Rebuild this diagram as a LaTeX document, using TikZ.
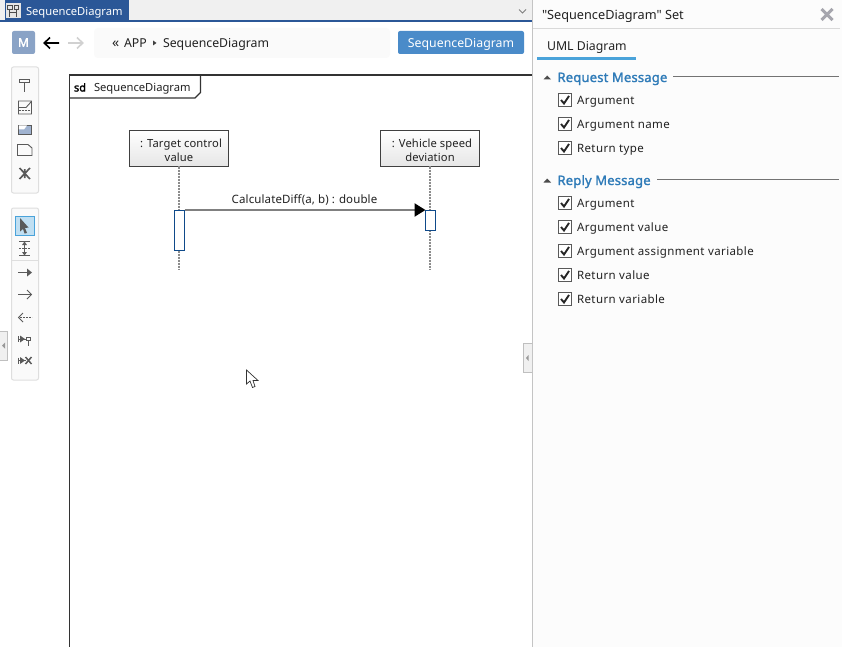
\documentclass[tikz,border=0pt]{standalone}
\usepackage{fontspec}
\setmainfont{Noto Sans}
\newfontfamily\plainf{Noto Sans}
\newfontfamily\itemf{Noto Sans}[LetterSpace=3.5]
\newfontfamily\msgf{Noto Sans}[LetterSpace=1]
\newfontfamily\headf{Noto Sans}[FakeBold=1.6,LetterSpace=1.5]
\newfontfamily\kwf{Noto Sans}[FakeBold=2]
\usetikzlibrary{arrows.meta}
\definecolor{tabblue}{HTML}{2B5797}
\definecolor{barbg}{HTML}{F0F0F0}
\definecolor{btnblue}{HTML}{4A8BC9}
\definecolor{headblue}{HTML}{2F7BB8}
\definecolor{tabline}{HTML}{4AA3DA}
\definecolor{panelln}{HTML}{C4C4C4}
\definecolor{toolgr}{HTML}{5A5A5A}
\definecolor{actblue}{HTML}{0F4A8A}
\definecolor{inkc}{HTML}{222222}
\definecolor{closegr}{HTML}{A6A6AE}
\tikzset{
  x=1pt,y=-1pt,
  lbl/.style={anchor=base west,inner sep=0pt,outer sep=0pt,font=\fontsize{11.2}{14}\selectfont,text=inkc},
  biglbl/.style={lbl,font=\fontsize{12.3}{14}\selectfont},
  itemlbl/.style={lbl,font=\fontsize{11.5}{14}\selectfont\itemf},
  lifebox/.style={draw=black!75,line width=1.2pt,inner sep=0pt,outer sep=0pt,minimum width=99pt,minimum height=36pt,align=center,
     top color=white,bottom color=black!10,font=\fontsize{11.2}{14}\selectfont\msgf,text=inkc},
  actbox/.style={draw=actblue,line width=0.9pt,fill=white,inner sep=0pt,outer sep=0pt,minimum width=10pt},
  lifeline/.style={draw=black!45,line width=2pt,dash pattern=on 2pt off 1pt},
  toolbox/.style={draw=black!13,line width=1pt,fill=black!2,rounded corners=2pt},
  tool/.style={draw=toolgr,line width=0.9pt},
  chkbox/.style={draw=black!65,line width=0.9pt,fill=white},
  chkmark/.style={draw=black!85,line width=1.9pt},
  grphead/.style={lbl,font=\fontsize{13}{14}\selectfont\headf,text=headblue},
  grpline/.style={draw=black!55,line width=0.8pt},
  collapser/.style={draw=black!25,line width=0.8pt,fill=barbg},
}
\newcommand{\chkitem}[3]{%
  \draw[chkbox] (558.5,#2-6.5) rectangle (571.5,#2+6.5);
  \draw[chkmark] (561,#2) -- (564,#2+3.5) -- (569,#2-4);
  \node[itemlbl] (#1) at (577,#2+4.5) {#3};
}
\begin{document}
\begin{tikzpicture}
\useasboundingbox (0,0) rectangle (842,647);
\fill[white] (0,0) rectangle (842,647);
% top bar
\fill[barbg] (0,0) rectangle (532,20);
\fill[tabblue] (5,0) rectangle (129,20);
\fill[tabblue] (0,20) rectangle (532,22.5);
\fill[white!90!black] (5.5,3.5) rectangle (20.5,18.5);
\draw[black!70,line width=0.9pt] (7.5,5) rectangle (12,9) (14,5) rectangle (18.5,9) (9.7,9) -- (9.7,17) (16.2,9) -- (16.2,17) (9.7,12.5) -- (16.2,12.5);
\node[lbl,text=white] (tabtext) at (26,16) {SequenceDiagram};
\draw[black!50,line width=0.8pt] (519,9.5) -- (522.5,13) -- (526,9.5);
% nav
\node[fill=tabblue!55!white,rounded corners=2pt,minimum width=23pt,minimum height=23pt,inner sep=0pt,text=white,font=\fontsize{12}{14}\selectfont\kwf] (mbtn) at (23.5,42.5) {M};
\draw[black,line width=1.6pt] (59,43) -- (44,43) (50,37.5) -- (44.3,43) -- (50,48.5);
\draw[black!18,line width=1.6pt] (68,43) -- (83,43) (77,37.5) -- (82.7,43) -- (77,48.5);
\fill[black!2,rounded corners=4pt] (94,28) rectangle (390,58);
\node[biglbl,font=\fontsize{14}{14}\selectfont] (bcback) at (112,47.5) {«};
\node[biglbl] (bcapp) at (124,47.5) {APP};
\fill[black!75] (153,40.5) -- (156.5,43) -- (153,45.5) -- cycle;
\node[biglbl] (bcseq) at (163,47.5) {SequenceDiagram};
\fill[btnblue,rounded corners=2pt] (398,31) rectangle (524,54);
\node[biglbl,anchor=base,text=white] (seqbtn) at (461,47.5) {SequenceDiagram};
% toolbars
\draw[toolbox] (11.5,67) rectangle (38.5,193);
\draw[tool] (19,79) rectangle (29,82.5) (24.5,82.5) -- (24.5,92);
\draw[tool] (18.5,101) rectangle (31.5,114) (18.5,107.5) -- (26,107.5) -- (31,102);
\draw[tool,dash pattern=on 2pt off 1pt] (18.5,110) -- (31.5,110);
\draw[tool,fill=tabblue!45!white] (18.5,125) rectangle (31.5,134);
\fill[white] (18.9,125.4) -- (27,125.4) -- (24,129.5) -- (18.9,129.5) -- cycle;
\draw[tool] (17.5,144.5) -- (28,144.5) -- (32,148) -- (32,155.5) -- (17.5,155.5) -- cycle;
\draw[tool,line width=1.6pt] (19.5,168) -- (30,179) (30,168) -- (19.5,179) (24.7,169) -- (24.7,178);
\draw[toolbox] (11.5,208) rectangle (38.5,380);
\draw[black!13,line width=1pt] (12,260.5) -- (38,260.5);
\draw[line width=1pt,draw=tabline,fill=tabline!35!white] (15.5,216.5) rectangle (34.5,235);
\fill[toolgr] (20,218) -- (28.5,227.5) -- (25,228) -- (27,233) -- (24.5,233.5) -- (23,229) -- (20,231.5) -- cycle;
\draw[tool] (19,241.5) -- (30,241.5) (19,255.5) -- (30,255.5);
\draw[tool,dash pattern=on 2pt off 1pt] (19,248.5) -- (30,248.5);
\fill[toolgr] (22,245) -- (27,245) -- (24.5,241.5) -- cycle (22,252) -- (27,252) -- (24.5,255.5) -- cycle;
\draw[tool] (24.5,244) -- (24.5,253);
\draw[tool] (18,272.5) -- (28,272.5);
\fill[toolgr] (27,268.5) -- (32,272.5) -- (27,276.5) -- cycle;
\draw[tool] (18,294.5) -- (31,294.5) (27,290) -- (31.5,294.5) -- (27,299);
\draw[tool,dash pattern=on 2pt off 1pt] (20,317.5) -- (32,317.5);
\draw[tool] (23,313) -- (18.5,317.5) -- (23,322);
\draw[tool] (18,339) -- (26,339) (18,336) -- (18,342);
\fill[toolgr] (20,335.5) -- (25,339) -- (20,342.5) -- cycle;
\draw[tool] (26.5,337) rectangle (30.5,340) (28.5,340) -- (28.5,346);
\draw[tool] (18,360.5) -- (26,360.5) (18,357.5) -- (18,363.5);
\fill[toolgr] (20,357) -- (25,360.5) -- (20,364) -- cycle;
\draw[tool,line width=1.5pt] (25.5,357) -- (31.5,364) (31.5,357) -- (25.5,364);
% collapsers
\draw[collapser] (-1,331.5) -- (7.5,331.5) -- (7.5,360.5) -- (-1,360.5);
\fill[black!40] (5,342.5) -- (2,345.5) -- (5,348.5) -- cycle;
% frame
\draw[black!80,line width=1.2pt] (532,75) -- (69.5,75) -- (69.5,647);
\draw[black!80,line width=1.1pt] (69.5,98) -- (195,98) -- (200.5,92.5) -- (200.5,75);
\node[lbl,font=\fontsize{11}{14}\selectfont\kwf,text=black] (sdkw) at (74,91.5) {sd};
\node[lbl] (sdname) at (94,91.5) {SequenceDiagram};
% sequence
\node[lifebox] (objA) at (179,148.5) {\hspace*{4pt}\rule{0pt}{13pt}: Target control\\value};
\node[lifebox] (objB) at (430,148.5) {\hspace*{4pt}\rule{0pt}{13pt}: Vehicle speed\\deviation};
\coordinate (endA) at (179,269);
\coordinate (endB) at (430,269);
\draw[lifeline] (objA.south) -- (endA);
\draw[lifeline] (objB.south) -- (endB);
\node[actbox,anchor=north,minimum height=40pt] (actA) at (179.5,210) {};
\node[actbox,anchor=north,minimum height=20pt] (actB) at (430.5,210) {};
\draw[draw=black!50,line width=2.2pt,-{Triangle[fill=black,color=black,length=11pt,width=13pt]}] (actA.north east) -- (actB.north west);
\node[lbl,anchor=base,font=\fontsize{11.5}{14}\selectfont\msgf] (msg) at (304.5,203) {CalculateDiff(a, b) : double};
% cursor
\draw[fill=white,draw=black!80,line width=0.7pt] (246.5,370) -- (246.5,384) -- (250,381) -- (252.5,387.5) -- (255,386.5) -- (253,380.5) -- (258,380.5) -- cycle;
% panel
\fill[black!1] (533,0) rectangle (842,647);
\draw[panelln,line width=1pt] (532.5,0) -- (532.5,647);
\node[lbl,font=\fontsize{12.7}{14}\selectfont\plainf] (ptitle) at (542,19.5) {"SequenceDiagram" Set};
\draw[closegr,line width=3pt] (821.5,9) -- (832.5,20) (832.5,9) -- (821.5,20);
\draw[black!15,line width=1pt] (533,28.5) -- (840,28.5);
\node[biglbl] (ptab) at (547,50.5) {UML Diagram};
\fill[tabline] (537,57) rectangle (636,60);
\draw[collapser] (532,343.5) -- (523.5,343.5) -- (523.5,372.5) -- (532,372.5);
\fill[black!40] (528.5,355) -- (526,358) -- (528.5,361) -- cycle;
% groups
\fill[black!70] (543.5,79.5) -- (551,79.5) -- (547.2,75.5) -- cycle;
\node[grphead] (reqh) at (557.5,82) {Request Message};
\draw[grpline] (673,76.5) -- (839,76.5);
\chkitem{reqa}{100}{Argument}
\chkitem{reqb}{124}{Argument name}
\chkitem{reqc}{148}{Return type}
\fill[black!70] (543.5,182.5) -- (551,182.5) -- (547.2,178.5) -- cycle;
\node[grphead] (reph) at (557.5,185) {Reply Message};
\draw[grpline] (657,179.5) -- (839,179.5);
\chkitem{repa}{203}{Argument}
\chkitem{repb}{227}{Argument value}
\chkitem{repc}{251}{Argument assignment variable}
\chkitem{repd}{275}{Return value}
\chkitem{repe}{299}{Return variable}
\end{tikzpicture}
\end{document}
